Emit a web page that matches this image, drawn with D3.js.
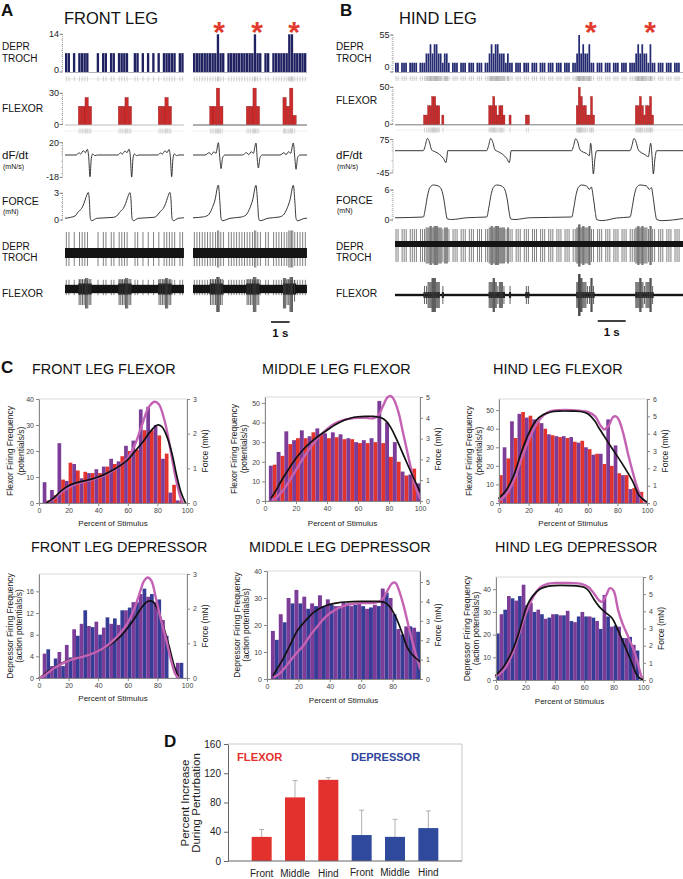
<!DOCTYPE html>
<html><head><meta charset="utf-8">
<script src="https://cdn.jsdelivr.net/npm/d3@7/dist/d3.min.js"></script>
<style>html,body{margin:0;padding:0;background:#fff}svg{display:block}</style>
</head><body>
<script>
// ================= DATA =================
// ---- Panel A : FRONT LEG (left block = control, right block = perturbed), time in s
const aDeprBinS = 1 / 7;           // s per bin ; 1 spike per bin = 7 spikes/s
const aDeprUnit = 7;
const aDeprLeft  = "110101111000101101101111001101010101011111011".split("").map(Number);
const aDeprRight = "1111111112110111111111121101101111112211111".split("").map(Number);
const aFlexBinS = 0.18;
const aFlexPerSpike = 8.75;
const aFlexLeft  = [0,0,0,0,17.5,17.5,26,17.5,0,0,0,0,0,0,0,0,17.5,17.5,26,17.5,0,0,0,0,0,0,0,0,17.5,17.5,26,17.5,0,0,0,0];
const aFlexRight = [0,0,0,0,0,17.5,17.5,35,17.5,0,0,0,0,0,0,0,17.5,17.5,35,17.5,0,0,0,0,0,0,0,26,17.5,35,8.8,0,0,0];
const aDfLeft = [[0,0],[0.595,0],[0.667,1],[0.757,3.8],[0.847,1.6],[0.991,7],[1.099,3.8],[1.207,9.2],[1.279,-1.3],[1.351,-17.5],[1.423,-2.7],[1.495,1.6],[1.622,-0.5],[1.75,0],
 [2.848,0],[2.92,1],[3.01,3.8],[3.1,1.6],[3.244,6.5],[3.352,3.8],[3.46,9.5],[3.532,-1.3],[3.604,-17.8],[3.676,-2.7],[3.748,1.6],[3.875,-0.5],[4.0,0],
 [5.01,0],[5.082,1],[5.172,3.5],[5.262,1.6],[5.406,6.8],[5.514,3.8],[5.622,9.0],[5.694,-1.3],[5.766,-17.5],[5.838,-2.7],[5.91,1.6],[6.037,-0.5],[6.15,0],[6.43,0]];
const aDfRight = [[0,0],[0.649,0],[0.883,3.8],[0.991,0.5],[1.135,5.4],[1.243,2.7],[1.369,20],[1.459,-4],[1.514,-11],[1.604,-2],[1.73,0],
 [2.667,0],[2.901,3.8],[3.009,0.5],[3.153,5.4],[3.261,2.7],[3.405,19.5],[3.477,-4],[3.532,-10.5],[3.622,-2],[3.748,0],
 [4.703,0],[4.919,3.8],[5.027,0.5],[5.171,5.4],[5.279,2.7],[5.423,19.5],[5.514,-4],[5.568,-11.5],[5.658,-2],[5.784,0],[6.16,0]];
const aForceLeft = [[0,0.19],[0.3,0.3],[0.541,0.45],[0.721,0.93],[0.901,1.31],[1.027,1.87],[1.135,2.55],[1.261,3.1],[1.315,2.25],[1.369,0.19],[1.441,-0.08],[1.712,0.19],[2.613,0.3],
 [2.794,0.45],[2.974,0.93],[3.154,1.31],[3.28,1.87],[3.388,2.55],[3.514,3.08],[3.568,2.25],[3.622,0.19],[3.694,-0.08],[3.965,0.19],[4.8,0.3],
 [4.956,0.45],[5.136,0.93],[5.316,1.31],[5.442,1.87],[5.55,2.55],[5.676,3.1],[5.73,2.25],[5.784,0.19],[5.856,-0.08],[6.127,0.19],[6.43,0.25]];
const aForceRight = [[0,0.25],[0.559,0.35],[0.829,0.56],[1.009,1.2],[1.189,2.25],[1.369,3.93],[1.459,1.87],[1.514,0.19],[1.586,-0.08],[2.0,0.19],[2.6,0.33],
 [2.865,0.56],[3.045,1.2],[3.225,2.25],[3.405,3.9],[3.495,1.87],[3.55,0.19],[3.622,-0.08],[4.036,0.19],[4.65,0.33],
 [4.883,0.56],[5.063,1.2],[5.243,2.25],[5.423,3.9],[5.513,1.87],[5.568,0.19],[5.64,-0.08],[6.054,0.19],[6.16,0.2]];
const aStars = [1.41, 3.46, 5.46];
const aDeprTicks = [0, 14], aFlexTicks = [0, 30], aDfTicks = [-18, 20], aForceTicks = [0, 3];

// ---- Panel B : HIND LEG, time in s
const bBinS = 1 / 13.75;
const bDeprUnit = 13.75, bFlexUnit = 12.5;
const bDepr = ("110111011110111" + "223233221221" + "0111011101110111011" + "2323322212" +
  "110111011101110111011101110111011" + "24232231" + "101110111011101110111" + "2323221311" + "0111011101110").split("").map(Number);
const bFlex = ("00000000000000" + "11223322010" + "000000000000000000000" + "22321221001" + "0000000" + "11" +
  "00000000000000000000000" + "243221131" + "00000000000000000000" + "223212231" + "00000000000000").split("").map(Number);
const bDf = [[0,0],[1.012,0],[1.071,27],[1.155,82],[1.226,60],[1.31,5],[1.429,-2],[1.583,-7.3],[1.726,-15.4],[1.821,-24],[1.857,-12],[1.881,0],
 [3.274,0],[3.333,27],[3.417,82],[3.488,60],[3.572,5],[3.691,-2],[3.845,-7.3],[3.988,-15.4],[4.083,-24],[4.119,-12],[4.143,0],
 [6.31,0],[6.369,27],[6.453,80],[6.524,60],[6.608,5],[6.845,-6],[6.94,-10],[6.988,50],[7.036,-10],[7.083,-47],[7.143,-15],[7.202,0],
 [8.393,0],[8.452,27],[8.536,82],[8.607,60],[8.691,5],[8.929,-8],[9.048,-12],[9.131,50],[9.179,-10],[9.226,-47],[9.286,-15],[9.345,0],[10.3,0]];
const bForce = [[0,0.45],[1.012,0.6],[1.095,2.67],[1.155,4.67],[1.25,6.53],[1.369,7.0],[1.548,6.8],[1.667,6.0],[1.75,4.0],[1.821,1.33],[1.869,0.2],[2.024,0.1],[2.56,0.45],
 [3.274,0.6],[3.357,2.67],[3.417,4.67],[3.512,6.53],[3.631,7.0],[3.81,6.8],[3.929,6.0],[4.012,4.0],[4.083,1.33],[4.131,0.2],[4.286,0.1],[4.8,0.45],
 [6.31,0.6],[6.393,2.67],[6.453,4.67],[6.548,6.53],[6.667,7.0],[6.845,6.8],[6.94,6.1],[7.012,6.6],[7.083,4.5],[7.155,1.5],[7.202,0.1],[7.381,-0.13],[7.917,0.4],
 [8.393,0.6],[8.476,2.67],[8.536,4.67],[8.631,6.53],[8.75,7.0],[8.988,6.8],[9.083,6.1],[9.155,6.5],[9.226,4.3],[9.298,1.3],[9.345,0.1],[9.524,-0.13],[10.3,0.3]];
const bStars = [6.99, 9.11];
const bDeprTicks = [0, 55], bFlexTicks = [0, 50], bDfTicks = [-45, 75], bForceTicks = [0, 6];

// ---- Panel C : firing histograms (control bar at 5k%, perturbed bar at 5k+2.5%), force curves [percent, mN]
const ffCtrl = [0,1,3,9,15.5,12.5,12,11.5,11.5,14,15,18,20,20.5,28,28,26,19,7,1];
const ffPert = [8,5,23,8.5,15,9.5,11.5,13,14,17,16,22,24,36,37,30,17,4,1,0];
const ffBlack = [[5,0],[10,0.15],[15,0.35],[20,0.5],[25,0.58],[30,0.63],[35,0.68],[40,0.75],[45,0.84],[50,0.95],[55,1.08],[60,1.25],[65,1.5],[70,1.75],[75,2.05],[80,2.25],[83,2.2],[87,1.85],[90,1.4],[93,0.8],[96,0.3],[99,0]];
const ffPink = [[5,0],[10,0.12],[15,0.3],[20,0.45],[25,0.55],[30,0.6],[35,0.66],[40,0.73],[45,0.82],[50,0.93],[55,1.08],[60,1.3],[65,1.7],[70,2.3],[74,2.75],[78,2.92],[81,2.85],[85,2.35],[89,1.5],[92,0.8],[95,0.25],[97,0]];

const mfCtrl = [0,18.5,23,29,32,32,35,34,32,32.5,31.5,31.5,29.5,29.5,30,29.5,22.5,20,13,16.5];
const mfPert = [18,25,35.5,31,36,33,37,34.5,35,34,32,30,31,32,51,40,30,15,13.5,9];
const mfBlack = [[4,0.15],[7,0.5],[10,0.9],[15,1.5],[20,2.05],[25,2.5],[30,2.85],[35,3.15],[40,3.4],[45,3.65],[50,3.85],[55,3.98],[60,4.05],[65,4.07],[70,4.07],[75,4.0],[78,3.85],[81,3.55],[85,2.95],[90,2.1],[95,1.25],[100,0.45]];
const mfPink = [[5,0.05],[8,0.2],[12,0.55],[16,1.0],[20,1.5],[25,2.1],[30,2.65],[35,3.1],[40,3.45],[45,3.72],[50,3.88],[55,3.96],[60,4.0],[65,4.0],[70,3.98],[73,4.1],[76,4.55],[79,4.98],[81,5.05],[83,4.9],[86,4.3],[89,3.3],[92,2.3],[95,1.3],[98,0.5],[100,0.15]];

const hfCtrl = [15,24,35,49,47,44,40,36.5,35.5,35,33,33.5,29,26.5,21,20,16,15,8,6];
const hfPert = [30,44,48,46,45,43,37,36,36,35.5,32.5,30,26,26.5,45,31,15,7.5,6,0];
const hfBlack = [[0,0.28],[5,0.75],[10,1.6],[15,2.9],[20,4.0],[25,4.75],[30,5.1],[35,5.25],[40,5.3],[50,5.3],[55,5.28],[60,5.15],[65,4.7],[67,4.4],[70,4.0],[76,3.2],[83,2.3],[90,1.3],[95,0.4],[100,0.05]];
const hfPink = [[0,0.12],[5,0.5],[10,1.3],[15,2.5],[20,3.6],[25,4.5],[30,5.05],[35,5.3],[40,5.35],[50,5.35],[60,5.25],[65,5.0],[68,4.55],[71,4.25],[74,4.45],[77,4.95],[79,5.0],[81,4.8],[84,4.0],[87,2.9],[90,1.9],[93,1.0],[96,0.35],[99,0.05]];

const fdCtrl = [0,5.3,3.6,2.2,3.8,7.8,12.5,9.4,8.0,11.2,11.0,12.5,13.0,14.0,16.5,15.5,14.5,7.8,0,2.8];
const fdPert = [4.5,2.2,4.8,6.1,9.0,10.0,9.6,10.4,9.3,10.0,9.8,12.5,14.0,15.5,15.0,14.0,10.7,0,2.8,0];
const fdBlack = [[0,0],[3,0.08],[6,0.2],[10,0.3],[15,0.42],[20,0.52],[25,0.58],[30,0.63],[35,0.7],[40,0.78],[45,0.88],[50,1.02],[55,1.2],[60,1.45],[65,1.75],[70,2.07],[74,2.22],[77,2.2],[80,2.0],[84,1.5],[88,0.9],[91,0.4],[94,0.05]];
const fdPink = [[0,0],[3,0.05],[6,0.15],[10,0.28],[15,0.4],[20,0.5],[25,0.57],[30,0.62],[35,0.69],[40,0.78],[45,0.9],[50,1.08],[55,1.3],[60,1.6],[64,1.95],[68,2.45],[71,2.8],[73.5,2.9],[76,2.8],[79,2.3],[82,1.75],[86,1.1],[89,0.55],[92,0.12],[94,0]];

const mdCtrl = [0,14.5,21,28,28,26,27,27,27.5,27,28,27.5,27,26.5,27,32,24,16.5,19.5,17.5];
const mdPert = [17.8,24,30,33,30.5,28,31,29.5,27,28.5,27,28,26,27.5,33.5,30,18.5,19.5,19,0];
const mdBlack = [[4,0.2],[7,0.6],[10,1.0],[15,1.8],[19,2.45],[25,3.05],[30,3.45],[35,3.7],[40,3.85],[45,3.93],[50,3.97],[60,4.0],[70,4.0],[75,3.95],[78,3.75],[82,3.2],[86,2.4],[89,1.7],[92,1.3],[96,1.0],[97.5,0.9]];
const mdPink = [[5,0.1],[9,0.35],[14,0.85],[19,1.35],[23,1.7],[28,2.3],[33,2.8],[38,3.25],[43,3.55],[48,3.75],[55,3.88],[62,3.92],[70,3.95],[74,4.15],[77,4.6],[80,4.95],[82,4.95],[84,4.6],[87,3.8],[90,2.8],[93,1.8],[95.5,1.1],[97.5,0.55]];

const hdCtrl = [20.5,31,36,37,33,30,29,27.5,29,28.5,26,28,28,27.5,22.5,28,24,18.5,19,13];
const hdPert = [29,37,35,42,34,31,27,29,28.5,30.5,25.5,30,28,26,37.5,23.5,23.5,18.5,15.5,0];
const hdBlack = [[0,0.28],[5,0.75],[10,1.5],[15,2.6],[18,3.5],[21,4.3],[25,4.9],[30,5.3],[35,5.45],[40,5.5],[50,5.5],[55,5.48],[60,5.4],[63,5.2],[67,4.65],[71,4.2],[75,3.9],[79,3.6],[83,2.9],[87,2.1],[90,1.5],[93,0.87],[96.5,0.2],[100,0]];
const hdPink = [[0,0.2],[5,0.55],[10,1.3],[15,2.5],[20,3.8],[25,4.8],[30,5.4],[35,5.6],[40,5.65],[50,5.65],[58,5.6],[63,5.4],[67,5.0],[70,4.65],[72,4.55],[75,4.95],[77.5,5.35],[80,5.2],[83,4.1],[86,3.3],[90,2.5],[94.5,1.57],[97,0.8],[99,0.2],[100,0.1]];

const xTicks100 = [0,20,40,60,80,100], xTicks80 = [0,20,40,60,80];
const ffL = [0,10,20,30,40], ffR = [0,1,2,3];
const mfL = [0,10,20,30,40,50], mfR = [0,1,2,3,4,5];
const hfL = [0,10,20,30,40,50], hfR = [0,1,2,3,4,5,6];
const fdL = [0,4,8,12,16], fdR = [0,1,2,3];
const mdL = [0,10,20,30,40], mdR = [0,1,2,3,4,5];
const hdL = [0,10,20,30,40], hdR = [0,1,2,3,4,5,6];

// ---- Panel D
const dCats = ["Front","Middle","Hind","Front","Middle","Hind"];
const dGroup = ["FLEXOR","FLEXOR","FLEXOR","DEPRESSOR","DEPRESSOR","DEPRESSOR"];
const dMeans = [33, 87, 111, 35.5, 33, 45];
const dErrTop = [43, 110, 114, 69.5, 57, 68.5];
const dTicks = [0, 40, 80, 120, 160];

// ================= DRAW =================
const FONT = "'Liberation Sans', Arial, Helvetica, sans-serif";
const svg = d3.select("body").append("svg").attr("width", 683).attr("height", 879).attr("font-family", FONT);
svg.append("rect").attr("width", 683).attr("height", 879).attr("fill", "#fff");

function T(x, y, s, fs, o = {}) {
  const t = svg.append("text").attr("x", x).attr("y", y).text(s).attr("font-size", fs).attr("fill", o.fill || "#111");
  if (o.anchor) t.attr("text-anchor", o.anchor);
  if (o.bold) t.attr("font-weight", "bold");
  if (o.db) t.attr("dominant-baseline", o.db);
  return t;
}
function TR(x, y, s, fs, fill) { // rotated -90, centred
  return svg.append("text").attr("transform", `translate(${x},${y}) rotate(-90)`).attr("text-anchor", "middle")
    .attr("dominant-baseline", "central").attr("font-size", fs).attr("fill", fill || "#222").text(s);
}
function spikes(arr, bw, perSpike) {
  const out = [];
  arr.forEach((v, i) => { const n = Math.round(v / perSpike); for (let j = 0; j < n; j++) out.push({ t: (i + (j + 0.5) / n) * bw, n }); });
  return out;
}
function dottedAxis(ax, yS, vals, fs, zeroShift) {
  const lo = d3.min(vals), hi = d3.max(vals);
  svg.append("line").attr("x1", ax).attr("x2", ax).attr("y1", yS(hi)).attr("y2", yS(lo))
    .attr("stroke", "#666").attr("stroke-width", 0.8).attr("stroke-dasharray", "0.8,1.2");
  d3.ticks(lo, hi, 8).forEach(v => svg.append("line").attr("x1", ax - 1.5).attr("x2", ax).attr("y1", yS(v)).attr("y2", yS(v)).attr("stroke", "#888").attr("stroke-width", 0.5));
  vals.forEach(v => {
    svg.append("line").attr("x1", ax - 3).attr("x2", ax).attr("y1", yS(v)).attr("y2", yS(v)).attr("stroke", "#555").attr("stroke-width", 0.7);
    T(ax - 3.5, yS(v) + (v === 0 ? zeroShift : 0), String(v), fs, { anchor: "end", db: "central", fill: "#222" });
  });
}

function tracePanel(P) {
  P.blocks.forEach(b => {
    const ts = d3.scaleLinear().domain([0, b.dur]).range([b.x0, b.x0 + b.dur * P.pxs]);
    b.ts = ts;
    const xa = ts(0), xb = ts(b.dur);
    // DEPR histogram
    svg.append("line").attr("x1", xa).attr("x2", xb).attr("y1", P.deprY(0) + 0.5).attr("y2", P.deprY(0) + 0.5).attr("stroke", "#9a9aa8").attr("stroke-width", 0.8);
    b.depr.forEach((c, i) => {
      if (!c) return; const v = c * P.deprUnit;
      svg.append("rect").attr("x", ts(i * P.deprBin)).attr("width", Math.max(0.4, ts((i + 1) * P.deprBin) - ts(i * P.deprBin) - 0.3))
        .attr("y", P.deprY(v)).attr("height", P.deprY(0) - P.deprY(v)).attr("fill", P.deprCol);
    });
    // DEPR raster
    svg.append("line").attr("x1", xa).attr("x2", xb).attr("y1", P.rast1 + 2.5).attr("y2", P.rast1 + 2.5).attr("stroke", "#ddd").attr("stroke-width", 0.6);
    const ds = spikes(b.depr, P.deprBin, 1);
    ds.forEach(s => svg.append("line").attr("x1", ts(s.t)).attr("x2", ts(s.t)).attr("y1", P.rast1).attr("y2", P.rast1 + 5).attr("stroke", s.n > 1 ? "#999" : "#b4b4b4").attr("stroke-width", 0.6));
    // FLEXOR histogram
    svg.append("line").attr("x1", xa).attr("x2", xb).attr("y1", P.flexY(0) + 0.5).attr("y2", P.flexY(0) + 0.5).attr("stroke", b.flexBase).attr("stroke-width", 0.8);
    b.flex.forEach((c, i) => {
      if (!c) return; const v = c * P.flexUnit;
      svg.append("rect").attr("x", ts(i * P.flexBin)).attr("width", ts((i + 1) * P.flexBin) - ts(i * P.flexBin))
        .attr("y", P.flexY(v)).attr("height", P.flexY(0) - P.flexY(v)).attr("fill", "#cc2b2c").attr("stroke", "#8e1a1c").attr("stroke-width", 0.35);
    });
    const fsp = spikes(b.flex, P.flexBin, P.flexPer);
    svg.append("line").attr("x1", xa).attr("x2", xb).attr("y1", P.rast2 + 2.5).attr("y2", P.rast2 + 2.5).attr("stroke", "#e4e4e4").attr("stroke-width", 0.6);
    fsp.forEach(s => svg.append("line").attr("x1", ts(s.t)).attr("x2", ts(s.t)).attr("y1", P.rast2).attr("y2", P.rast2 + 5).attr("stroke", "#bbb").attr("stroke-width", 0.6));
    // dF/dt and force
    const lDf = d3.line().x(d => ts(d[0])).y(d => P.dfY(d[1])).curve(d3.curveMonotoneX);
    const lFo = d3.line().x(d => ts(d[0])).y(d => P.forceY(d[1])).curve(d3.curveMonotoneX);
    svg.append("path").attr("d", lDf(b.df)).attr("fill", "none").attr("stroke", "#222").attr("stroke-width", 0.9);
    svg.append("path").attr("d", lFo(b.force)).attr("fill", "none").attr("stroke", "#222").attr("stroke-width", 0.9);
    // raw DEPR TROCH recording
    const R1 = P.raw1;
    ds.forEach(s => svg.append("line").attr("x1", ts(s.t)).attr("x2", ts(s.t))
      .attr("y1", R1.c - R1.up - (s.n - 1) * 1.5).attr("y2", R1.c + R1.dn + (s.n - 1) * 1.5).attr("stroke", "#555").attr("stroke-width", 0.75));
    svg.append("rect").attr("x", xa).attr("width", xb - xa).attr("y", R1.c - R1.band).attr("height", 2 * R1.band).attr("fill", "#141414");
    // raw FLEXOR recording
    const R2 = P.raw2;
    if (R2.cross) ds.forEach(s => svg.append("line").attr("x1", ts(s.t)).attr("x2", ts(s.t)).attr("y1", R2.c - R2.band - 5).attr("y2", R2.c + R2.band + 2).attr("stroke", "#333").attr("stroke-width", 0.6));
    svg.append("rect").attr("x", xa).attr("width", xb - xa).attr("y", R2.c - R2.band).attr("height", 2 * R2.band).attr("fill", "#141414");
    b.flex.forEach((c, i) => {
      if (!c) return;
      svg.append("rect").attr("x", ts(i * P.flexBin)).attr("width", ts((i + 1) * P.flexBin) - ts(i * P.flexBin))
        .attr("y", R2.c - R2.burst).attr("height", 2 * R2.burst).attr("fill", "#141414");
    });
    fsp.forEach(s => svg.append("line").attr("x1", ts(s.t)).attr("x2", ts(s.t))
      .attr("y1", R2.c - R2.up - s.n * R2.upK).attr("y2", R2.c + R2.dn + s.n * R2.dnK).attr("stroke", "#3a3a3a").attr("stroke-width", 0.8));
  });
  dottedAxis(P.axX, P.deprY, P.deprTicks, 9, P.zeroShift);
  dottedAxis(P.axX, P.flexY, P.flexTicks, 9, 0);
  dottedAxis(P.axX, P.dfY, P.dfTicks, 9, 0);
  dottedAxis(P.axX, P.forceY, P.forceTicks, 9, 0);
  // labels
  const L = P.lab, lx = P.labX;
  T(lx, L.depr, "DEPR", 10); T(lx, L.depr + 11.3, "TROCH", 10);
  T(lx, L.flex, "FLEXOR", 10.3);
  T(lx, L.df, "dF/dt", 11.5); T(lx + 1, L.df + 9.5, "(mN/s)", 7);
  T(lx, L.force, "FORCE", 10.5); T(lx + 1, L.force + 9.5, "(mN)", 7);
  T(lx, L.raw1, "DEPR", 10); T(lx, L.raw1 + 11.3, "TROCH", 10);
  T(lx, L.raw2, "FLEXOR", 10.3);
  // asterisks
  const sb = P.blocks[P.starBlock];
  P.stars.forEach(t => T(sb.ts(t), 42, "*", 30, { anchor: "middle", bold: true, fill: "#e23b2e" }));
  // scale bar 1 s
  const bb = P.blocks[P.blocks.length - 1];
  svg.append("line").attr("x1", bb.ts(P.sbT)).attr("x2", bb.ts(P.sbT + 1)).attr("y1", P.sbY).attr("y2", P.sbY).attr("stroke", "#111").attr("stroke-width", 1.6);
  T((bb.ts(P.sbT) + bb.ts(P.sbT + 1)) / 2, P.sbY + 15, "1 s", 11.5, { anchor: "middle", bold: true });
}

// ---- Panel A
T(1, 15.5, "A", 17, { bold: true });
T(64, 24.2, "FRONT LEG", 16.5);
tracePanel({
  pxs: 18.5, axX: 62.5, labX: 2, zeroShift: -2,
  blocks: [
    { x0: 65, dur: 6.43, depr: aDeprLeft, flex: aFlexLeft, df: aDfLeft, force: aForceLeft, flexBase: "#aaa" },
    { x0: 193, dur: 6.16, depr: aDeprRight, flex: aFlexRight, df: aDfRight, force: aForceRight, flexBase: "#333" }
  ],
  deprBin: aDeprBinS, deprUnit: aDeprUnit, deprCol: "#1f2160",
  flexBin: aFlexBinS, flexUnit: 1, flexPer: aFlexPerSpike,
  deprY: d3.scaleLinear().domain([0, 14]).range([72, 34.3]),
  flexY: d3.scaleLinear().domain([0, 30]).range([124.5, 93.3]),
  dfY: d3.scaleLinear().domain([-18, 0, 20]).range([177.3, 155, 142.7]),
  forceY: d3.scaleLinear().domain([0, 3]).range([220, 193.3]),
  deprTicks: aDeprTicks, flexTicks: aFlexTicks, dfTicks: aDfTicks, forceTicks: aForceTicks,
  rast1: 76.5, rast2: 128.5,
  raw1: { c: 253, band: 5, up: 21, dn: 13 },
  raw2: { c: 289, band: 4.2, burst: 5.5, up: 8, upK: 1, dn: 9, dnK: 3.5, cross: true },
  lab: { depr: 50.3, flex: 111.7, df: 159, force: 204.7, raw1: 249.6, raw2: 296.6 },
  stars: aStars, starBlock: 1, sbT: 4.22, sbY: 322
});

// ---- Panel B
T(340, 15.5, "B", 17, { bold: true });
T(399, 24.2, "HIND LEG", 16.5);
tracePanel({
  pxs: 28, axX: 393, labX: 336, zeroShift: -5,
  blocks: [{ x0: 395, dur: 10.3, depr: bDepr, flex: bFlex, df: bDf, force: bForce, flexBase: "#555" }],
  deprBin: bBinS, deprUnit: bDeprUnit, deprCol: "#252b70",
  flexBin: bBinS, flexUnit: bFlexUnit, flexPer: 1,
  deprY: d3.scaleLinear().domain([0, 55]).range([72, 35]),
  flexY: d3.scaleLinear().domain([0, 50]).range([124.3, 87.3]),
  dfY: d3.scaleLinear().domain([-45, 0, 75]).range([173, 150.7, 139.5]),
  forceY: d3.scaleLinear().domain([0, 6]).range([220, 190]),
  deprTicks: bDeprTicks, flexTicks: bFlexTicks, dfTicks: bDfTicks, forceTicks: bForceTicks,
  rast1: 76, rast2: 127.5,
  raw1: { c: 244, band: 3, up: 15, dn: 18 },
  raw2: { c: 295, band: 1.2, burst: 3, up: 5, upK: 4, dn: 5, dnK: 4, cross: false },
  lab: { depr: 50.3, flex: 103.6, df: 159, force: 203.7, raw1: 249.6, raw2: 296.9 },
  stars: bStars, starBlock: 0, sbT: 7.24, sbY: 321
});

// ---- Panel C
T(1, 373.3, "C", 17, { bold: true });
const RED = "#e2342c", PURP = "#7b3d97", BLUE = "#363d96", PINK = "#c462b4";
function drawHist(c) {
  const g = svg.append("g");
  const x = d3.scaleLinear().domain([0, c.xMax]).range([c.x0, c.x1]);
  const yl = d3.scaleLinear().domain([0, c.lMax]).range([c.yB, c.yT]);
  const yr = d3.scaleLinear().domain([0, c.rMax]).range([c.yB, c.yT]);
  g.append("rect").attr("x", c.x0).attr("y", c.yT).attr("width", c.x1 - c.x0).attr("height", c.yB - c.yT)
    .attr("fill", "none").attr("stroke", "#c8c8c8").attr("stroke-width", 0.7);
  const bars = [];
  c.ctrl.forEach((v, k) => bars.push({ a: 5 * k, v, col: c.cCol }));
  c.pert.forEach((v, k) => bars.push({ a: 5 * k + 2.5, v, col: PURP }));
  g.selectAll(null).data(bars.filter(d => d.v > 0 && d.a < c.xMax)).join("rect")
    .attr("x", d => x(d.a)).attr("width", d => x(Math.min(d.a + 2.5, c.xMax)) - x(d.a))
    .attr("y", d => yl(Math.min(d.v, c.lMax))).attr("height", d => yl(0) - yl(Math.min(d.v, c.lMax)))
    .attr("fill", d => d.col);
  const ln = d3.line().x(d => x(d[0])).y(d => yr(d[1])).curve(d3.curveCatmullRom.alpha(0.5));
  const dP = () => g.append("path").attr("d", ln(c.pnk)).attr("fill", "none").attr("stroke", PINK).attr("stroke-width", 2.4).attr("stroke-linecap", "round");
  const dB = () => g.append("path").attr("d", ln(c.blk)).attr("fill", "none").attr("stroke", "#111").attr("stroke-width", 1.7).attr("stroke-linecap", "round");
  if (c.pinkTop) { dB(); dP(); } else { dP(); dB(); }
  const st = sel => { sel.attr("font-family", FONT).attr("font-size", 7); sel.selectAll("text").attr("fill", "#444");
    sel.selectAll("line").attr("stroke", "#888"); sel.select(".domain").attr("stroke", "#888"); };
  const fmt = d3.format("d");
  g.append("g").attr("transform", `translate(${c.x0},0)`).call(d3.axisLeft(yl).tickValues(c.lT).tickFormat(fmt).tickSize(3).tickPadding(2).tickSizeOuter(0)).call(st);
  g.append("g").attr("transform", `translate(${c.x1},0)`).call(d3.axisRight(yr).tickValues(c.rT).tickFormat(fmt).tickSize(3).tickPadding(3).tickSizeOuter(0)).call(st);
  g.append("g").attr("transform", `translate(0,${c.yB})`).call(d3.axisBottom(x).tickValues(c.xT).tickFormat(fmt).tickSize(3).tickPadding(2).tickSizeOuter(0)).call(st);
  const yc = (c.yT + c.yB) / 2;
  TR(c.x0 - c.l1d, yc, c.l1, 8.5);
  TR(c.x0 - c.l2d, yc, c.l2, 8.5);
  TR(c.x1 + 17.5, yc, "Force (mN)", 8.5);
  T((c.x0 + c.x1) / 2, c.xtY, "Percent of Stimulus", 8, { anchor: "middle", fill: "#222" });
  T(c.tx, c.ty, c.title, 14.4, { fill: "#111" });
}
const FL1 = "Flexor Firing Frequency", FL2 = "(potentials/s)";
const DL1 = "Depressor Firing Frequency", DL2 = "(action potentials/s)";
[
  { title: "FRONT LEG FLEXOR", tx: 32, ty: 374.2, x0: 39, x1: 187, yT: 399, yB: 503, xMax: 100, lMax: 40, rMax: 3, lT: ffL, rT: ffR, xT: xTicks100, ctrl: ffCtrl, pert: ffPert, blk: ffBlack, pnk: ffPink, cCol: RED, l1: FL1, l2: FL2, l1d: 29, l2d: 18, xtY: 526 },
  { title: "MIDDLE LEG FLEXOR", tx: 262, ty: 374.2, x0: 265, x1: 420, yT: 397, yB: 501, xMax: 100, lMax: 53, rMax: 5, lT: mfL, rT: mfR, xT: xTicks100, ctrl: mfCtrl, pert: mfPert, blk: mfBlack, pnk: mfPink, cCol: RED, l1: FL1, l2: FL2, l1d: 31, l2d: 21, xtY: 526 },
  { title: "HIND LEG FLEXOR", tx: 493, ty: 374.2, x0: 499, x1: 647, yT: 399, yB: 503, xMax: 100, lMax: 56, rMax: 6, lT: hfL, rT: hfR, xT: xTicks100, ctrl: hfCtrl, pert: hfPert, blk: hfBlack, pnk: hfPink, cCol: RED, l1: FL1, l2: FL2, l1d: 30, l2d: 20, xtY: 526 },
  { title: "FRONT LEG DEPRESSOR", tx: 31, ty: 552.2, x0: 39, x1: 187, yT: 574, yB: 678, xMax: 100, lMax: 19.2, rMax: 3, lT: fdL, rT: fdR, xT: xTicks100, ctrl: fdCtrl, pert: fdPert, blk: fdBlack, pnk: fdPink, cCol: BLUE, l1: DL1, l2: DL2, l1d: 29, l2d: 20, xtY: 701, pinkTop: true },
  { title: "MIDDLE LEG DEPRESSOR", tx: 249, ty: 552.2, x0: 267, x1: 420, yT: 571, yB: 679, xMax: 97.5, lMax: 40, rMax: 5.57, lT: mdL, rT: mdR, xT: xTicks80, ctrl: mdCtrl, pert: mdPert, blk: mdBlack, pnk: mdPink, cCol: BLUE, l1: DL1, l2: DL2, l1d: 30, l2d: 21, xtY: 703 },
  { title: "HIND LEG DEPRESSOR", tx: 495, ty: 552.2, x0: 496, x1: 643, yT: 577, yB: 680, xMax: 100, lMax: 45.4, rMax: 6, lT: hdL, rT: hdR, xT: xTicks100, ctrl: hdCtrl, pert: hdPert, blk: hdBlack, pnk: hdPink, cCol: BLUE, l1: DL1, l2: DL2, l1d: 29, l2d: 20, xtY: 704 }
].forEach(drawHist);

// ---- Panel D
T(164, 747, "D", 17, { bold: true });
(function () {
  const x = d3.scaleBand().domain(d3.range(dCats.length)).range([245, 445]).paddingInner(0.4).paddingOuter(0.2);
  const y = d3.scaleLinear().domain([0, 160]).range([861, 744]);
  const g = svg.append("g");
  g.append("line").attr("x1", 228).attr("x2", 462).attr("y1", 744).attr("y2", 744).attr("stroke", "#bbb").attr("stroke-width", 0.8);
  g.append("line").attr("x1", 462).attr("x2", 462).attr("y1", 744).attr("y2", 861).attr("stroke", "#bbb").attr("stroke-width", 0.8);
  const col = gname => gname === "FLEXOR" ? "#e3312e" : "#2f4a9c";
  dMeans.forEach((m, i) => {
    const cx = x(i) + x.bandwidth() / 2;
    g.append("line").attr("x1", cx).attr("x2", cx).attr("y1", y(m)).attr("y2", y(dErrTop[i])).attr("stroke", "#a8a8a8").attr("stroke-width", 0.9);
    g.append("line").attr("x1", cx - 2.5).attr("x2", cx + 2.5).attr("y1", y(dErrTop[i])).attr("y2", y(dErrTop[i])).attr("stroke", "#a8a8a8").attr("stroke-width", 0.9);
    g.append("rect").attr("x", x(i)).attr("width", x.bandwidth()).attr("y", y(m)).attr("height", y(0) - y(m)).attr("fill", col(dGroup[i]));
    T(cx, dGroup[i] === "FLEXOR" ? 876.5 : 875.5, dCats[i], 10, { anchor: "middle", fill: "#222" });
  });
  const ya = g.append("g").attr("transform", "translate(228,0)").call(d3.axisLeft(y).tickValues(dTicks).tickSize(4).tickPadding(3).tickSizeOuter(0));
  ya.attr("font-family", FONT).attr("font-size", 10); ya.selectAll("text").attr("fill", "#222");
  ya.selectAll("line,path").attr("stroke", "#666");
  g.append("line").attr("x1", 228).attr("x2", 462).attr("y1", 861).attr("y2", 861).attr("stroke", "#666").attr("stroke-width", 1);
  T(237, 761, "FLEXOR", 11.2, { bold: true, fill: "#e3312e" });
  T(351, 761, "DEPRESSOR", 11, { bold: true, fill: "#30469c" });
  TR(185, 803, "Percent Increase", 11.5, "#222");
  TR(196, 803, "During Perturbation", 11.5, "#222");
})();
</script>
</body></html>
